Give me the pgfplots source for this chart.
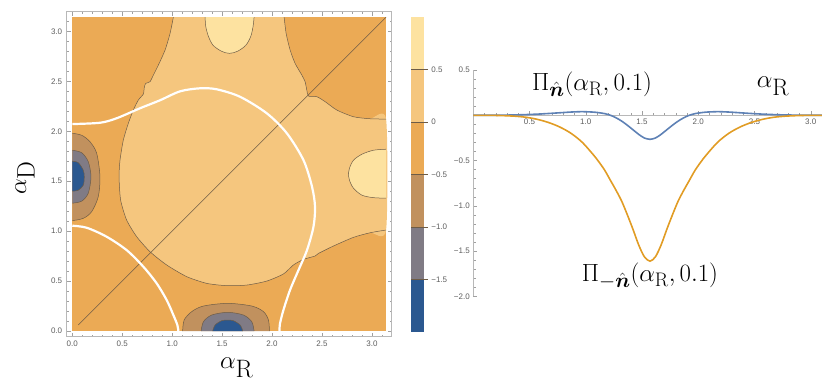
\documentclass[border=0pt]{standalone}
\usepackage{fontspec}
\usepackage{amsmath,bm}
\usepackage{pgfplots}
\usepackage{pgfplotstable}
\pgfplotsset{compat=1.18}
\newfontfamily\tickfont{Liberation Sans}
\definecolor{cLightest}{HTML}{FDE2A0}
\definecolor{cLight}{HTML}{F5C67E}
\definecolor{cOrange}{HTML}{EBAA55}
\definecolor{cBrown}{HTML}{C1915E}
\definecolor{cGrey}{HTML}{807B85}
\definecolor{cBlue}{HTML}{2B5890}
\definecolor{cLine}{HTML}{6E5C46}
\definecolor{mBlue}{HTML}{5E81B5}
\definecolor{mOrange}{HTML}{E19C24}
\definecolor{frameGray}{HTML}{B8B8B8}
\definecolor{tickGray}{HTML}{A0A0A0}
\definecolor{labelGray}{HTML}{5E5E5E}

% contour boundaries (data coordinates)
\pgfplotstableread{
x y
1.012 3.1416
0.979 2.980
0.929 2.813
0.862 2.663
0.812 2.563
0.778 2.496
0.735 2.479
0.721 2.439
0.711 2.372
0.661 2.312
0.611 2.212
0.561 2.079
0.511 1.912
0.478 1.712
0.468 1.545
0.484 1.311
0.544 1.111
0.645 0.944
0.778 0.794
0.945 0.661
1.146 0.544
1.346 0.477
1.546 0.454
1.747 0.460
1.947 0.500
2.114 0.571
2.214 0.661
2.315 0.717
2.432 0.751
2.465 0.777
2.615 0.851
2.816 0.938
2.983 0.984
3.1416 1.011
}\lightLB
\pgfplotstableread{
x y
2.121 3.1416
2.141 2.980
2.181 2.813
2.231 2.679
2.298 2.563
2.331 2.496
2.348 2.412
2.365 2.352
2.448 2.346
2.532 2.296
2.649 2.212
2.816 2.145
2.983 2.125
3.1416 2.122
}\lightR
\pgfplotstableread{
x y
1.33 3.1416
1.336 3.05
1.363 2.95
1.41 2.86
1.496 2.80
1.573 2.78
1.653 2.80
1.737 2.86
1.787 2.95
1.81 3.05
1.82 3.1416
}\topEll
\pgfplotstableread{
x y
3.1416 1.82
3.016 1.81
2.90 1.77
2.815 1.71
2.775 1.63
2.765 1.58
2.775 1.51
2.815 1.43
2.90 1.36
3.016 1.335
3.1416 1.33
}\rightEll
\pgfplotstableread{
x y
0 1.98
0.094 1.96
0.177 1.895
0.244 1.78
0.277 1.545
0.26 1.345
0.194 1.195
0.11 1.128
0 1.105
}\leftBrown
\pgfplotstableread{
x y
0 1.81
0.094 1.785
0.16 1.695
0.187 1.545
0.16 1.38
0.094 1.30
0 1.28
}\leftGrey
\pgfplotstableread{
x y
0 1.70
0.06 1.685
0.11 1.61
0.12 1.545
0.11 1.46
0.06 1.41
0 1.40
}\leftBlue
\pgfplotstableread{
x y
1.105 0
1.12 0.11
1.196 0.194
1.313 0.25
1.556 0.277
1.797 0.25
1.914 0.194
1.964 0.11
1.974 0
}\botBrown
\pgfplotstableread{
x y
1.29 0
1.313 0.093
1.396 0.16
1.556 0.187
1.713 0.16
1.797 0.093
1.82 0
}\botGrey
\pgfplotstableread{
x y
1.406 0
1.43 0.06
1.496 0.103
1.556 0.11
1.613 0.103
1.68 0.06
1.707 0
}\botBlue
\pgfplotstableread{
x y
0 2.072
0.277 2.085
0.444 2.13
0.678 2.23
0.878 2.31
1.08 2.40
1.28 2.43
1.446 2.42
1.68 2.345
1.947 2.18
2.148 1.98
2.315 1.71
2.40 1.445
2.43 1.245
2.415 1.045
2.35 0.81
2.265 0.61
2.18 0.41
2.114 0.21
2.08 0.077
2.074 0
}\whiteA
\pgfplotstableread{
x y
0 1.054
0.144 1.034
0.344 0.944
0.544 0.81
0.711 0.644
0.845 0.477
0.945 0.31
1.012 0.16
1.052 0.06
1.062 0
}\whiteB

% line plot data
\pgfplotstableread{
x y
0 0
0.17 -0.001
0.27 -0.004
0.37 -0.010
0.47 -0.022
0.57 -0.045
0.67 -0.080
0.77 -0.130
0.87 -0.200
0.97 -0.300
1.07 -0.440
1.12 -0.520
1.17 -0.610
1.22 -0.720
1.27 -0.830
1.32 -0.950
1.37 -1.100
1.42 -1.260
1.47 -1.430
1.52 -1.560
1.5708 -1.610
1.62 -1.560
1.67 -1.430
1.72 -1.260
1.77 -1.100
1.82 -0.950
1.87 -0.830
1.92 -0.720
1.97 -0.610
2.02 -0.520
2.07 -0.440
2.17 -0.300
2.27 -0.200
2.37 -0.130
2.47 -0.080
2.57 -0.045
2.67 -0.022
2.77 -0.010
2.87 -0.004
2.97 -0.001
3.1416 0
}\minusN
\pgfplotstableread{
x y
0 0
0.17 0.0005
0.27 0.002
0.37 0.004
0.47 0.008
0.57 0.013
0.67 0.020
0.77 0.028
0.87 0.036
0.97 0.040
1.07 0.035
1.12 0.028
1.17 0.018
1.22 0.000
1.27 -0.028
1.32 -0.065
1.37 -0.110
1.42 -0.160
1.47 -0.210
1.52 -0.250
1.5708 -0.265
1.62 -0.250
1.67 -0.210
1.72 -0.160
1.77 -0.110
1.82 -0.065
1.87 -0.028
1.92 0.000
1.97 0.018
2.02 0.028
2.07 0.035
2.17 0.040
2.27 0.036
2.37 0.028
2.47 0.020
2.57 0.013
2.67 0.008
2.77 0.004
2.87 0.002
2.97 0.0005
3.1416 0
}\plusN

\begin{document}
\begin{tikzpicture}[x=1pt,y=1pt]
\useasboundingbox (0pt,0pt) rectangle (822pt,383pt);

% ---------------- contour plot ----------------
\begin{axis}[
  at={(66.7pt,46.3pt)}, anchor=south west, scale only axis,
  width=325pt, height=325pt,
  xmin=-0.056, xmax=3.198, ymin=-0.057, ymax=3.197,
  axis line style={frameGray, line width=0.6pt},
  xtick={0,0.5,1,1.5,2,2.5,3},
  xticklabels={0.0,0.5,1.0,1.5,2.0,2.5,3.0},
  ytick={0,0.5,1,1.5,2,2.5,3},
  yticklabels={0.0,0.5,1.0,1.5,2.0,2.5,3.0},
  minor xtick={0.1,0.2,...,3.15},
  minor ytick={0.1,0.2,...,3.15},
  tick align=inside, tick pos=both,
  major tick length=4pt, minor tick length=2.2pt,
  tick style={tickGray, line width=0.5pt},
  ticklabel style={font=\tickfont\fontsize{8}{9}\selectfont, text=labelGray},
  xticklabel style={yshift=-1pt},
  yticklabel style={xshift=-1pt},
]
\addplot[fill=cOrange, draw=none] coordinates {(0,0) (3.1416,0) (3.1416,3.1416) (0,3.1416)} --cycle;
\addplot[fill=cLight, draw=none, smooth, tension=0.4] coordinates {
(1.012,3.1416) (0.979,2.980) (0.929,2.813) (0.862,2.663) (0.812,2.563) (0.778,2.496) (0.735,2.479) (0.721,2.439) (0.711,2.372) (0.661,2.312) (0.611,2.212) (0.561,2.079) (0.511,1.912) (0.478,1.712) (0.468,1.545) (0.484,1.311) (0.544,1.111) (0.645,0.944) (0.778,0.794) (0.945,0.661) (1.146,0.544) (1.346,0.477) (1.546,0.454) (1.747,0.460) (1.947,0.500) (2.114,0.571) (2.214,0.661) (2.315,0.717) (2.432,0.751) (2.465,0.777) (2.615,0.851) (2.816,0.938) (2.983,0.984) (3.1416,1.011)
(3.1416,2.122) (2.983,2.125) (2.816,2.145) (2.649,2.212) (2.532,2.296) (2.448,2.346) (2.365,2.352) (2.348,2.412) (2.331,2.496) (2.298,2.563) (2.231,2.679) (2.181,2.813) (2.141,2.980) (2.121,3.1416)} --cycle;
\addplot[fill=cLightest, draw=none, smooth] table {\topEll} --cycle;
\addplot[fill=cLightest, draw=none, smooth] table {\rightEll} --cycle;
\addplot[fill=cBrown, draw=none, smooth] table {\leftBrown} --cycle;
\addplot[fill=cGrey, draw=none, smooth] table {\leftGrey} --cycle;
\addplot[fill=cBlue, draw=none, smooth] table {\leftBlue} --cycle;
\addplot[fill=cBrown, draw=none, smooth] table {\botBrown} --cycle;
\addplot[fill=cGrey, draw=none, smooth] table {\botGrey} --cycle;
\addplot[fill=cBlue, draw=none, smooth] table {\botBlue} --cycle;
% contour lines
\addplot[cLine, line width=0.5pt, smooth, tension=0.4] table {\lightLB};
\addplot[cLine, line width=0.5pt, smooth, tension=0.4] table {\lightR};
\addplot[cLine, line width=0.5pt, smooth] table {\topEll};
\addplot[cLine, line width=0.5pt, smooth] table {\rightEll};
\addplot[cLine, line width=0.5pt, smooth] table {\leftBrown};
\addplot[cLine, line width=0.5pt, smooth] table {\leftGrey};
\addplot[cLine, line width=0.5pt, smooth] table {\leftBlue};
\addplot[cLine, line width=0.5pt, smooth] table {\botBrown};
\addplot[cLine, line width=0.5pt, smooth] table {\botGrey};
\addplot[cLine, line width=0.5pt, smooth] table {\botBlue};
\addplot[cLine, line width=0.5pt] coordinates {(0.06,0.06) (3.1416,3.1416)};
% white curves
\addplot[white, line width=2.2pt, smooth] table {\whiteA};
\addplot[white, line width=2.2pt, smooth] table {\whiteB};
\end{axis}

% ---------------- colour bar ----------------
\begin{axis}[
  at={(411pt,51.3pt)}, anchor=south west, scale only axis,
  width=13.3pt, height=314.4pt,
  xmin=0, xmax=1, ymin=-2, ymax=1,
  axis line style={draw=none},
  xtick=\empty,
  ytick={-1.5,-1,-0.5,0,0.5},
  yticklabels={−1.5,−1.0,−0.5,0,0.5},
  ytick pos=right, yticklabel pos=right,
  tick align=outside, major tick length=3.5pt,
  tick style={cLine, line width=0.5pt},
  ticklabel style={font=\tickfont\fontsize{8}{9}\selectfont, text=labelGray},
]
\addplot[fill=cBlue, draw=none] coordinates {(0,-2) (1,-2) (1,-1.5) (0,-1.5)} --cycle;
\addplot[fill=cGrey, draw=none] coordinates {(0,-1.5) (1,-1.5) (1,-1) (0,-1)} --cycle;
\addplot[fill=cBrown, draw=none] coordinates {(0,-1) (1,-1) (1,-0.5) (0,-0.5)} --cycle;
\addplot[fill=cOrange, draw=none] coordinates {(0,-0.5) (1,-0.5) (1,0) (0,0)} --cycle;
\addplot[fill=cLight, draw=none] coordinates {(0,0) (1,0) (1,0.5) (0,0.5)} --cycle;
\addplot[fill=cLightest, draw=none] coordinates {(0,0.5) (1,0.5) (1,1) (0,1)} --cycle;
\addplot[cLine, line width=0.5pt] coordinates {(0,-1.5) (1,-1.5)};
\addplot[cLine, line width=0.5pt] coordinates {(0,-1) (1,-1)};
\addplot[cLine, line width=0.5pt] coordinates {(0,-0.5) (1,-0.5)};
\addplot[cLine, line width=0.5pt] coordinates {(0,0) (1,0)};
\addplot[cLine, line width=0.5pt] coordinates {(0,0.5) (1,0.5)};
\end{axis}

% ---------------- line plot ----------------
\begin{axis}[
  at={(473.3pt,86.5pt)}, anchor=south west, scale only axis,
  width=348.7pt, height=226.5pt,
  xmin=0, xmax=3.1, ymin=-2, ymax=0.5,
  axis lines=middle,
  axis line style={-, frameGray, line width=0.6pt},
  xtick={0.5,1,1.5,2,2.5,3},
  xticklabels={0.5,1.0,1.5,2.0,2.5,3.0},
  ytick={-2,-1.5,-1,-0.5,0.5},
  yticklabels={−2.0,−1.5,−1.0,−0.5,0.5},
  minor xtick={0.1,0.2,...,3.05},
  minor ytick={-1.9,-1.8,...,0.45},
  tick align=inside,
  major tick length=4pt, minor tick length=2.2pt,
  tick style={tickGray, line width=0.5pt},
  ticklabel style={font=\tickfont\fontsize{8}{9}\selectfont, text=labelGray},
  clip=true,
]
\addplot[mBlue, line width=1.6pt, smooth] table {\plusN};
\addplot[mOrange, line width=1.6pt, smooth] table {\minusN};
\end{axis}

% ---------------- labels ----------------
\node at (236.7pt,15pt) {\fontsize{36}{40}\selectfont $\alpha_{\mathrm{R}}$};
\node[rotate=90] at (25pt,205pt) {\fontsize{36}{40}\selectfont $\alpha_{\mathrm{D}}$};
\node at (592pt,299pt) {\fontsize{28}{32}\selectfont $\Pi_{\hat{\bm{n}}}(\alpha_{\mathrm{R}},0.1)$};
\node at (773pt,297pt) {\fontsize{34}{38}\selectfont $\alpha_{\mathrm{R}}$};
\node at (650pt,107pt) {\fontsize{28}{32}\selectfont $\Pi_{-\hat{\bm{n}}}(\alpha_{\mathrm{R}},0.1)$};
\end{tikzpicture}
\end{document}
